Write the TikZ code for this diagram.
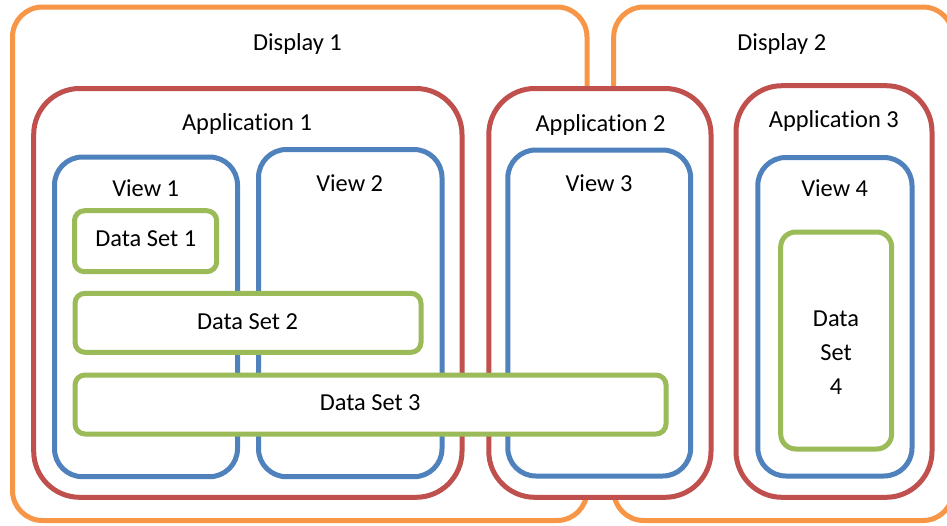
\documentclass[tikz,border=0pt]{standalone}
\usepackage{fontspec}
\setmainfont{Carlito}[Ligatures=NoCommon]
\definecolor{dispcol}{HTML}{F79646}
\definecolor{appcol}{HTML}{C0504D}
\definecolor{viewcol}{HTML}{4F81BD}
\definecolor{datacol}{HTML}{9BBB59}
\begin{document}
\begin{tikzpicture}[x=1pt,y=-1pt,
  box/.style={draw, line width=5pt, fill=white, inner sep=0pt, outer sep=0pt},
  dispbox/.style={box, draw=dispcol, rounded corners=30pt},
  appbox/.style={box, draw=appcol, rounded corners=46pt},
  viewbox/.style={box, draw=viewcol, rounded corners=28pt},
  databox/.style={box, draw=datacol, rounded corners=10pt},
  lbl/.style={font=\fontsize{24.4}{29}\selectfont, inner sep=0pt, anchor=base, text=black}]
\useasboundingbox (0,0) rectangle (947,525);
\clip (0,0) rectangle (947,525);

% displays
\node[dispbox, minimum width=574.5pt, minimum height=513.5pt] (disp1) at (299.75,263.75) {};
\node[dispbox, minimum width=339.3pt, minimum height=513.5pt] (disp2) at (783.35,263.75) {};
\node[lbl] (disp1t) at (297.5,50) {Display 1};
\node[lbl] (disp2t) at (781.8,50) {Display 2};

% applications
\node[appbox, minimum width=428.3pt, minimum height=408.8pt] (app1) at (247.85,292.9) {};
\node[appbox, minimum width=222.2pt, minimum height=408.8pt] (app2) at (599.9,292.9) {};
\node[appbox, minimum width=196pt, minimum height=411.6pt] (app3) at (834,291.5) {};
\node[lbl] (app1t) at (247,130) {Application 1};
\node[lbl] (app2t) at (600.5,131.7) {Application 2};
\node[lbl] (app3t) at (833.8,127.3) {Application 3};

% views
\node[viewbox, minimum width=183pt, minimum height=319.7pt] (view1) at (146,316.85) {};
\node[viewbox, minimum width=183.5pt, minimum height=327.2pt] (view2) at (350.25,313.1) {};
\node[viewbox, minimum width=182.9pt, minimum height=326pt] (view3) at (599.25,313) {};
\node[viewbox, minimum width=154.2pt, minimum height=318.5pt] (view4) at (834.9,316.75) {};
\node[lbl] (view1t) at (145.7,196.7) {View 1};
\node[lbl] (view2t) at (349.7,191.7) {View 2};
\node[lbl] (view3t) at (599,191.7) {View 3};
\node[lbl] (view4t) at (834.7,196.7) {View 4};

% data sets
\node[databox, minimum width=142.2pt, minimum height=61pt] (ds1) at (145.6,241.2) {};
\node[databox, minimum width=346pt, minimum height=59pt] (ds2) at (248,322.8) {};
\node[databox, minimum width=591pt, minimum height=59pt] (ds3) at (370.5,404.5) {};
\node[databox, rounded corners=15pt, minimum width=111pt, minimum height=217pt] (ds4) at (836.2,340.5) {};
\node[lbl] (ds1t) at (145.8,246.7) {Data Set 1};
\node[lbl] (ds2t) at (247.5,329.3) {Data Set 2};
\node[lbl] (ds3t) at (370.2,410) {Data Set 3};
\node[lbl, anchor=center, align=center, font=\fontsize{24.4}{34}\selectfont] (ds4t) at (836,353.1) {Data\\Set\\4};
\end{tikzpicture}
\end{document}
